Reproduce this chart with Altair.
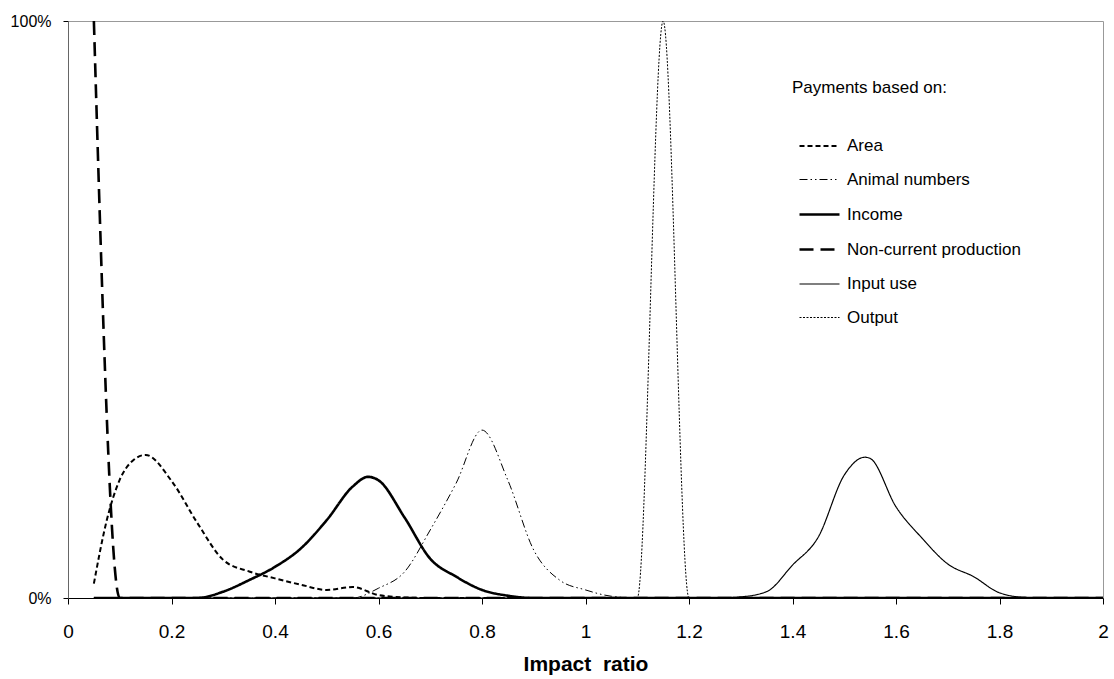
import altair as alt
import pandas as pd

series_names = ["Area", "Animal numbers", "Income", "Non-current production", "Input use", "Output"]

area_x = [0.05, 0.075, 0.10, 0.125, 0.15, 0.20, 0.25, 0.30, 0.35, 0.40, 0.45, 0.50, 0.55, 0.60, 0.65, 0.70, 2.00]
area_y = [2.5, 13.5, 20.5, 23.8, 24.8, 20.3, 13.0, 6.6, 4.6, 3.4, 2.3, 1.4, 1.9, 0.5, 0.1, 0.0, 0.0]

animal_x = [0.05, 0.55, 0.60, 0.65, 0.70, 0.75, 0.80, 0.85, 0.90, 0.95, 1.00, 1.05, 1.10, 2.00]
animal_y = [0.0, 0.0, 1.7, 4.5, 11.8, 19.9, 29.1, 20.4, 8.3, 3.1, 1.4, 0.3, 0.0, 0.0]

income_x = [0.05, 0.25, 0.30, 0.35, 0.40, 0.45, 0.50, 0.55, 0.58, 0.60, 0.65, 0.70, 0.75, 0.80, 0.85, 0.90, 2.00]
income_y = [0.0, 0.0, 1.1, 3.1, 5.4, 8.6, 13.5, 19.3, 21.0, 20.4, 14.0, 6.8, 3.7, 1.4, 0.4, 0.0, 0.0]

noncurrent_x = [0.05, 0.10, 2.00]
noncurrent_y = [100.0, 0.0, 0.0]

input_x = [0.05, 1.25, 1.30, 1.35, 1.40, 1.45, 1.50, 1.54, 1.55, 1.60, 1.65, 1.70, 1.75, 1.80, 1.85, 1.90, 2.00]
input_y = [0.0, 0.0, 0.2, 1.1, 5.7, 10.6, 21.3, 24.4, 24.2, 15.8, 10.4, 5.9, 3.7, 0.9, 0.1, 0.0, 0.0]

output_x = [0.05, 1.10, 1.15, 1.20, 2.00]
output_y = [0.0, 0.0, 100.0, 0.0, 0.0]

x_ticks = [0, 0.2, 0.4, 0.6, 0.8, 1.0, 1.2, 1.4, 1.6, 1.8, 2.0]
y_ticks = [0, 1]

all_x = [area_x, animal_x, income_x, noncurrent_x, input_x, output_x]
all_y = [area_y, animal_y, income_y, noncurrent_y, input_y, output_y]

rows = []
for name, xs, ys in zip(series_names, all_x, all_y):
    for xv, yv in zip(xs, ys):
        rows.append({"series": name, "ratio": xv, "share": yv / 100.0})
df = pd.DataFrame(rows)

dash_range = [[5, 3], [8, 3, 1.5, 3, 1.5, 3], [1, 0], [14, 7], [1, 0], [2, 1.5]]
width_range = [2, 1, 2.6, 2.6, 1.2, 1]

legend = alt.Legend(
    title="Payments based on:",
    orient="none",
    legendX=720,
    legendY=55,
    padding=4,
    symbolType="M-0.4,0H3.6",
    symbolSize=400,
    symbolStrokeColor="black",
    symbolFillColor="transparent",
    labelOffset=32,
    labelFontSize=17,
    labelColor="black",
    titleFontSize=17,
    titleFontWeight="normal",
    titleColor="black",
    titlePadding=38,
    rowPadding=15,
    labelLimit=400,
)

chart = alt.Chart(df).mark_line(interpolate="monotone", color="black", clip=True).encode(
    x=alt.X(
        "ratio:Q",
        scale=alt.Scale(domain=[0, 2], nice=False, zero=False),
        axis=alt.Axis(
            values=x_ticks, format="~g", title="Impact\u00a0\u00a0ratio",
            grid=False, tickSize=6, tickColor="black", domainColor="black",
            labelFontSize=19, labelColor="black", labelPadding=18,
            titleFontSize=21, titleFontWeight="bold", titleColor="black", titlePadding=12,
            labelFlush=False,
        ),
    ),
    y=alt.Y(
        "share:Q",
        scale=alt.Scale(domain=[0, 1], nice=False),
        axis=alt.Axis(
            values=y_ticks, format=".0%", title=None, grid=False,
            tickSize=5, tickColor="black", domainColor="#666666",
            labelFontSize=16, labelColor="black", labelPadding=12,
        ),
    ),
    strokeDash=alt.StrokeDash("series:N", sort=series_names,
                              scale=alt.Scale(type="ordinal", domain=series_names, range=dash_range), legend=legend),
    strokeWidth=alt.StrokeWidth("series:N", sort=series_names,
                                scale=alt.Scale(type="ordinal", domain=series_names, range=width_range), legend=legend),
).properties(
    width=1035,
    height=577,
    autosize=alt.AutoSizeParams(type="none"),
    padding={"left": 68, "top": 21, "right": 11, "bottom": 81},
).configure(
    font="Liberation Sans",
).configure_view(
    stroke="#999999", strokeWidth=1
)

chart.save("out.html", embed_options={"renderer": "svg", "actions": False})
